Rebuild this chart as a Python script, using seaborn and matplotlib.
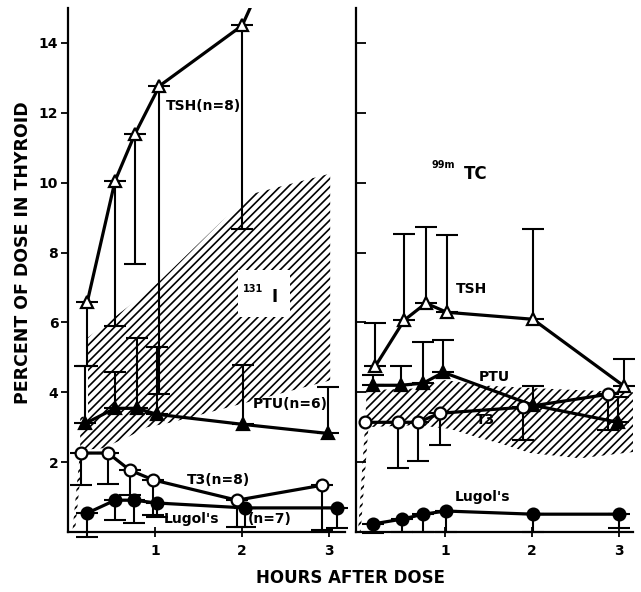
import numpy as np
import matplotlib
matplotlib.use('Agg')
import matplotlib.pyplot as plt
from matplotlib.patches import Rectangle
import seaborn as sns

sns.set_style('ticks')
plt.rcParams['font.family'] = ['DejaVu Sans']
plt.rcParams['font.weight'] = 'bold'
plt.rcParams['hatch.linewidth'] = 1.2
for k in ('text.color', 'axes.labelcolor', 'xtick.color', 'ytick.color', 'axes.edgecolor'):
    plt.rcParams[k] = 'black'

# ---- left panel (131-I) ----
l_tsh_x = [0.22, 0.54, 0.77, 1.05, 2.0, 3.0]
l_tsh_y = [6.57, 10.05, 11.4, 12.77, 14.5, 20.0]
l_tsh_lo = [4.75, 5.9, 7.68, 3.95, 8.68, np.nan]

l_ptu_x = [0.2, 0.54, 0.79, 1.02, 2.01, 2.99]
l_ptu_y = [3.11, 3.54, 3.54, 3.37, 3.08, 2.82]
l_ptu_hi = [4.75, 4.57, 5.54, 5.29, 4.77, 4.14]

l_t3_x = [0.15, 0.46, 0.71, 0.98, 1.94, 2.92]
l_t3_y = [2.26, 2.26, 1.77, 1.49, 0.91, 1.34]
l_t3_lo = [1.34, 1.37, 1.06, 0.49, 0.14, 0.06]

l_lug_x = [0.22, 0.54, 0.76, 1.02, 2.03, 3.09]
l_lug_y = [0.54, 0.91, 0.91, 0.83, 0.69, 0.69]
l_lug_lo = [-0.14, 0.34, 0.26, 0.43, 0.14, 0.11]

# 131-I band
l_band_x = [0.23, 0.68, 1.06, 1.75, 2.13, 3.01, 3.01, 1.19, 0.91, 0.68, 0.4, 0.14, 0.14, 0.23]
l_band_y = [5.57, 6.43, 7.2, 8.86, 9.69, 10.26, 4.34, 3.14, 3.0, 2.71, 2.4, 2.34, 3.3, 3.3]
l_sliver_x = [0.05, 0.14, 0.17, 0.08]
l_sliver_y = [0.0, 2.34, 2.3, 0.0]

# ---- right panel (99m-Tc) ----
r_tsh_x = [0.2, 0.53, 0.78, 1.02, 2.01, 3.06]
r_tsh_y = [4.75, 6.06, 6.55, 6.29, 6.09, 4.17]
r_tsh_hi = [5.97, 8.54, 8.74, 8.51, 8.66, 4.94]

r_ptu_x = [0.17, 0.49, 0.75, 0.98, 2.01, 2.99]
r_ptu_y = [4.2, 4.2, 4.26, 4.57, 3.63, 3.14]
r_ptu_hi = [4.49, 4.74, 5.43, 5.51, 4.17, 3.86]

r_t3_x = [0.08, 0.46, 0.69, 0.94, 1.9, 2.87]
r_t3_y = [3.14, 3.14, 3.14, 3.4, 3.57, 3.94]
r_t3_lo = [np.nan, 1.83, 2.03, 2.49, 2.63, 2.91]

r_lug_x = [0.17, 0.51, 0.75, 1.01, 2.01, 3.0]
r_lug_y = [0.23, 0.37, 0.51, 0.6, 0.51, 0.51]
r_lug_lo = [-0.03, 0.0, 0.0, 0.0, 0.0, 0.11]

r_band_x = [0.1, 0.68, 1.0, 1.4, 2.0, 2.55, 3.16, 3.16, 2.55, 1.98, 1.63, 1.4, 1.06, 0.68, 0.08]
r_band_y = [4.06, 4.11, 4.35, 4.2, 4.12, 4.06, 4.0, 2.29, 2.11, 2.26, 2.54, 2.69, 2.95, 3.06, 3.0]
r_sliver_x = [0.0, 0.08, 0.12, 0.03]
r_sliver_y = [0.0, 3.0, 3.0, 0.0]

fig = plt.figure(figsize=(6.41, 5.92), dpi=100)
axL = fig.add_axes([68 / 641, 60 / 592, 277 / 641, 524 / 592])
axR = fig.add_axes([356 / 641, 60 / 592, 277 / 641, 524 / 592])


def series(ax, x, y, marker, filled, err_lo=None, err_hi=None):
    x = np.array(x)
    y = np.array(y)
    if err_lo is not None:
        e = np.array(err_lo)
        m = ~np.isnan(e)
        ax.errorbar(x[m], y[m], yerr=[y[m] - e[m], np.zeros(m.sum())], fmt='none',
                    ecolor='black', elinewidth=1.5, capsize=8, capthick=1.5,
                    zorder=2, clip_on=False)
    if err_hi is not None:
        e = np.array(err_hi)
        m = ~np.isnan(e)
        ax.errorbar(x[m], y[m], yerr=[np.zeros(m.sum()), e[m] - y[m]], fmt='none',
                    ecolor='black', elinewidth=1.5, capsize=8, capthick=1.5,
                    zorder=2, clip_on=False)
    sns.lineplot(x=x, y=y, ax=ax, color='black', linewidth=2.3, marker=marker,
                 markersize=8.5, markerfacecolor='white' if not filled else 'black',
                 markeredgecolor='black', markeredgewidth=1.6, sort=False,
                 estimator=None, zorder=3)


def band(ax, bx, by, sx, sy):
    ax.fill(bx, by, facecolor='none', edgecolor='black', hatch='////', linewidth=0, zorder=1)
    ax.fill(sx, sy, facecolor='none', edgecolor='black', hatch='////', linewidth=0, zorder=1)


band(axL, l_band_x, l_band_y, l_sliver_x, l_sliver_y)
series(axL, l_tsh_x, l_tsh_y, '^', False, err_lo=l_tsh_lo)
series(axL, l_ptu_x, l_ptu_y, '^', True, err_hi=l_ptu_hi)
series(axL, l_t3_x, l_t3_y, 'o', False, err_lo=l_t3_lo)
series(axL, l_lug_x, l_lug_y, 'o', True, err_lo=l_lug_lo)

band(axR, r_band_x, r_band_y, r_sliver_x, r_sliver_y)
series(axR, r_tsh_x, r_tsh_y, '^', False, err_hi=r_tsh_hi)
series(axR, r_ptu_x, r_ptu_y, '^', True, err_hi=r_ptu_hi)
series(axR, r_t3_x, r_t3_y, 'o', False, err_lo=r_t3_lo)
series(axR, r_lug_x, r_lug_y, 'o', True, err_lo=r_lug_lo)

for ax in (axL, axR):
    ax.set_ylim(0, 15)
    ax.set_xticks([1, 2, 3])
    ax.set_xticklabels(['1', '2', '3'], fontsize=10, fontweight='bold')
    ax.set_yticks([2, 4, 6, 8, 10, 12, 14])
    ax.tick_params(axis='x', direction='inout', length=7, width=1.3, pad=5)
    for s in ('top', 'right'):
        ax.spines[s].set_visible(False)
    for s in ('left', 'bottom'):
        ax.spines[s].set_linewidth(1.6)
    ax.set_xlabel('')
    ax.set_ylabel('')

axL.set_xlim(0, 3.18)
axR.set_xlim(-0.023, 3.16)
axL.set_yticklabels(['2', '4', '6', '8', '10', '12', '14'], fontsize=10, fontweight='bold')
axL.tick_params(axis='y', direction='out', length=5, width=1.3, pad=2)
axR.tick_params(axis='y', direction='in', length=7, width=1.3, labelleft=False)

# labels on the plot
tk = dict(fontsize=10, fontweight='bold', ha='center', va='center')
axL.text(1.55, 12.2, 'TSH(n=8)', **tk)
axL.text(2.55, 3.67, 'PTU(n=6)', **tk)
axL.text(1.73, 1.48, 'T3(n=8)', **tk)
axL.text(1.42, 0.38, "Lugol's", **tk)
axL.text(2.32, 0.38, '(n=7)', **tk)
axL.add_patch(Rectangle((1.95, 6.15), 0.6, 1.35, facecolor='white', edgecolor='none', zorder=4))
axL.text(2.12, 6.95, '131', fontsize=7, fontweight='bold', ha='center', va='center', zorder=5)
axL.text(2.37, 6.72, 'I', fontsize=12, fontweight='bold', ha='center', va='center', zorder=5)

axR.text(0.98, 10.5, '99m', fontsize=7, fontweight='bold', ha='center', va='center')
axR.text(1.35, 10.25, 'TC', fontsize=12, fontweight='bold', ha='center', va='center')
axR.text(1.3, 6.96, 'TSH', **tk)
axR.text(1.57, 4.45, 'PTU', **tk)
axR.text(1.46, 3.2, 'T3', **tk)
axR.text(1.43, 1.0, "Lugol's", **tk)

fig.text(23 / 641, 1 - 253 / 592, 'PERCENT OF DOSE IN THYROID', rotation=90,
         fontsize=12.5, fontweight='bold', ha='center', va='center')
fig.text(350 / 641, 1 - 578 / 592, 'HOURS AFTER DOSE', fontsize=12,
         fontweight='bold', ha='center', va='center')

fig.savefig('out.png', dpi=100)
